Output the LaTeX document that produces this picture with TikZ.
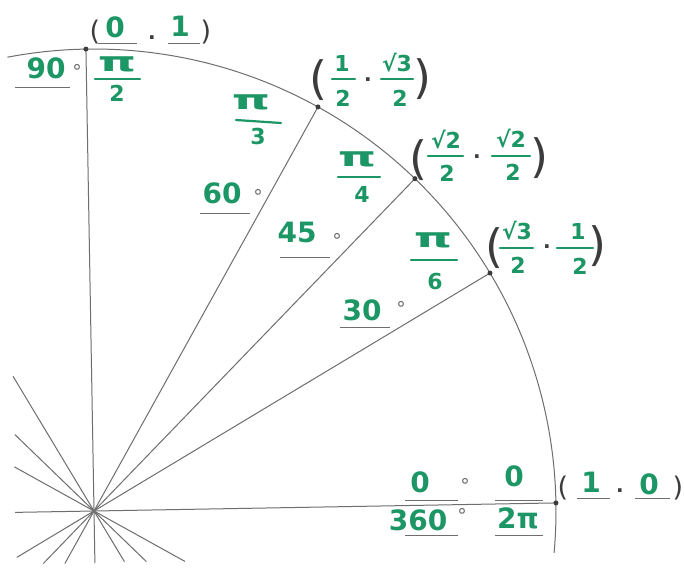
\documentclass[tikz,border=0pt]{standalone}
\usepackage{fontspec}
\setmainfont{DejaVu Sans}
\usetikzlibrary{calc}
\definecolor{hand}{RGB}{28,150,100}
\definecolor{pencil}{RGB}{110,110,110}
\definecolor{dark}{RGB}{60,60,60}
\begin{document}
\begin{tikzpicture}[x=1pt,y=-1pt,
  ink/.style={text=hand,inner sep=0,font=\fontsize{28}{28}\selectfont\bfseries},
  fr/.style={text=hand,inner sep=0,font=\fontsize{22}{22}\selectfont\bfseries},
  piglyph/.style={text=hand,inner sep=0,font=\fontsize{27}{27}\selectfont\bfseries},
  paren/.style={text=dark,inner sep=0,font=\fontsize{27}{27}\selectfont},
  bigparen/.style={text=dark,inner sep=0,font=\fontsize{46}{46}\selectfont},
  sepdot/.style={text=dark,inner sep=0,font=\fontsize{20}{20}\selectfont\bfseries},
  degsign/.style={text=pencil,inner sep=0,font=\fontsize{19}{19}\selectfont},
  blank/.style={draw=pencil,line width=0.9},
  fbar/.style={draw=hand,line width=2.2,line cap=round},
  ray/.style={draw=pencil,line width=1},
  pt/.style={circle,fill=dark,inner sep=0,minimum size=5}]
\useasboundingbox[fill=white] (0,0) rectangle (684,567);
% geometry
\coordinate (O) at (94,511);
\coordinate (A0) at ($(O)+(-1:462)$);
\coordinate (A30) at ($(O)+(-31:462)$);
\coordinate (A45) at ($(O)+(-46:462)$);
\coordinate (A60) at ($(O)+(-61:462)$);
\coordinate (A90) at ($(O)+(-91:462)$);
\coordinate (ArcS) at ($(O)+(5.2:462)$);
\draw[ray] (ArcS) arc[start angle=5.2, end angle=-100.8, radius=462];
\foreach \n in {A0,A30,A45,A60,A90} \draw[ray] (O) -- (\n);
% short star lines
\foreach \a/\l [count=\i] in {121/157,136/110,151/91,181/79,211/90,226/73,241/60,271/52,301/59,316/73,331/104}
  \coordinate (S\i) at ($(O)+(-\a:\l)$);
\foreach \i in {1,...,11} \draw[ray] (O) -- (S\i);
\foreach \n in {A0,A30,A45,A60,A90} \node[pt] (d\n) at (\n) {};
% (0,1) and 90
\node[paren] (p90l) at (95,32) {(};
\node[ink] (x90) at (115,27) {0};
\node[sepdot] (c90) at (152,38) {.};
\node[ink] (y90) at (180,26) {1};
\node[paren] (p90r) at (206,32) {)};
\draw[blank] (98,43) -- (137,43);
\draw[blank] (168,43) -- (200,43);
\node[ink] (deg90) at (46,68) {90};
\node[degsign] (g90) at (77,71) {°};
\draw[blank] (15,87) -- (70,87);
\node[piglyph] (r90n) at (117,64) {\scalebox{1.8}[1]{π}};
\draw[fbar] (95,79) -- (140,79);
\node[fr] (r90d) at (117,93) {2};
% 60
\node[piglyph] (r60n) at (251,102) {\scalebox{1.8}[1]{π}};
\draw[fbar] (236,120) -- (281,123);
\node[fr] (r60d) at (258,136) {3};
\node[ink] (deg60) at (222,193) {60};
\node[degsign] (g60) at (258,196) {°};
\draw[blank] (200,213) -- (250,213);
\node[bigparen] (p60l) at (318,80) {(};
\node[fr] (x60n) at (342,63) {1};
\draw[fbar] (332,79) -- (355,79);
\node[fr] (x60d) at (343,98) {2};
\node[sepdot] (c60) at (368,80) {.};
\node[fr] (y60n) at (397,63) {√3};
\draw[fbar] (381,79) -- (413,79);
\node[fr] (y60d) at (400,98) {2};
\node[bigparen] (p60r) at (422,79) {)};
% 45
\node[piglyph] (r45n) at (357,159) {\scalebox{1.8}[1]{π}};
\draw[fbar] (338,177) -- (380,177);
\node[fr] (r45d) at (362,194) {4};
\node[ink] (deg45) at (297,232) {45};
\node[degsign] (g45) at (337,240) {°};
\draw[blank] (280,257) -- (330,257);
\node[bigparen] (p45l) at (418,160) {(};
\node[fr] (x45n) at (446,140) {√2};
\draw[fbar] (428,156) -- (463,156);
\node[fr] (x45d) at (447,173) {2};
\node[sepdot] (c45) at (477,157) {.};
\node[fr] (y45n) at (511,139) {√2};
\draw[fbar] (492,156) -- (530,156);
\node[fr] (y45d) at (513,172) {2};
\node[bigparen] (p45r) at (539,158) {)};
% 30
\node[piglyph] (r30n) at (433,240) {\scalebox{1.8}[1]{π}};
\draw[fbar] (411,260) -- (457,260);
\node[fr] (r30d) at (435,281) {6};
\node[ink] (deg30) at (362,310) {30};
\node[degsign] (g30) at (401,308) {°};
\draw[blank] (340,327) -- (390,327);
\node[bigparen] (p30l) at (494,248) {(};
\node[fr] (x30n) at (517,231) {√3};
\draw[fbar] (500,248) -- (533,248);
\node[fr] (x30d) at (518,265) {2};
\node[sepdot] (c30) at (547,247) {.};
\node[fr] (y30n) at (578,231) {1};
\draw[fbar] (557,248) -- (593,248);
\node[fr] (y30d) at (580,266) {2};
\node[bigparen] (p30r) at (597,246) {)};
% 0 / 360
\node[ink] (deg0) at (420,482) {0};
\node[degsign] (g0) at (465,485) {°};
\node[ink] (r0) at (514,476) {0};
\draw[blank] (405,500) -- (458,500);
\draw[blank] (495,500) -- (543,500);
\node[ink] (deg360) at (418,520) {360};
\node[degsign] (g360) at (462,515) {°};
\node[ink] (r360) at (518,518) {2π};
\draw[blank] (405,535) -- (458,535);
\draw[blank] (495,535) -- (543,535);
\node[paren] (p0l) at (563,488) {(};
\node[ink] (x0) at (591,482) {1};
\draw[blank] (577,498) -- (610,498);
\node[sepdot] (c0) at (620,491) {.};
\node[ink] (y0) at (649,484) {0};
\draw[blank] (635,498) -- (670,498);
\node[paren] (p0r) at (678,488) {)};
\end{tikzpicture}
\end{document}
